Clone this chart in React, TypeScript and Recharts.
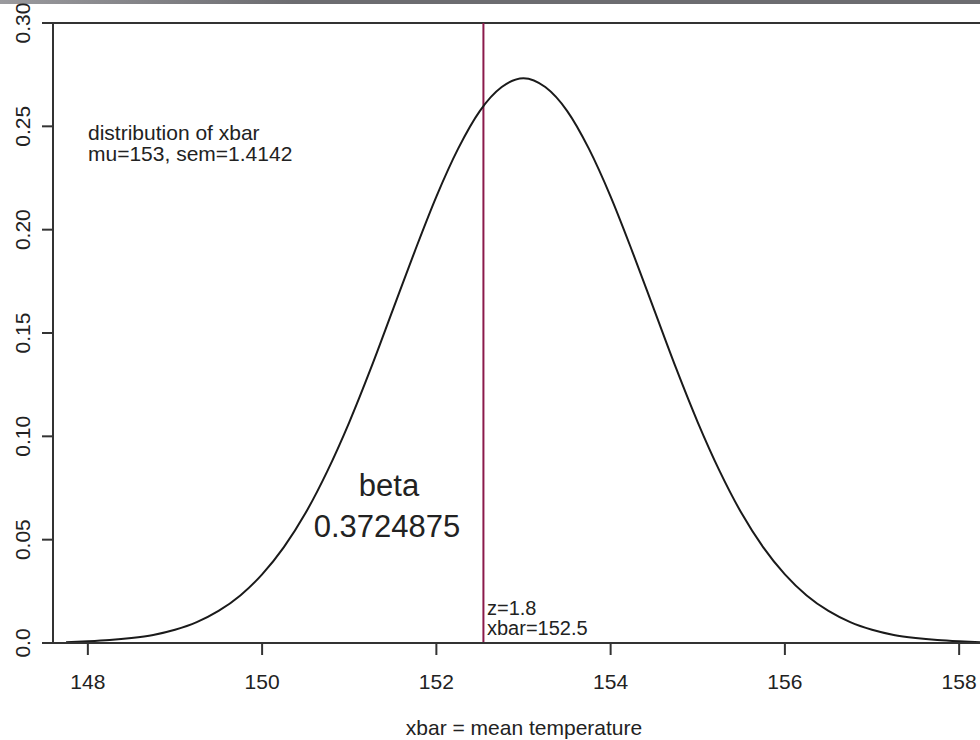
import { LineChart, Line, XAxis, YAxis, ReferenceLine } from 'recharts'

// sampling grid of the curve (mean temperature)
const xbarValues = [
  147.75, 148, 148.25, 148.5, 148.75, 149, 149.25, 149.5, 149.75, 150, 150.25,
  150.5, 150.75, 151, 151.25, 151.5, 151.75, 152, 152.25, 152.5, 152.75, 153,
  153.25, 153.5, 153.75, 154, 154.25, 154.5, 154.75, 155, 155.25, 155.5, 155.75,
  156, 156.25, 156.5, 156.75, 157, 157.25, 157.5, 157.75, 158, 158.25,
]

// density
const densityValues = [
  0.0004, 0.0008, 0.0014, 0.0024, 0.0039, 0.0064, 0.0101, 0.0155, 0.023, 0.0332, 0.0464,
  0.063, 0.0833, 0.1068, 0.1331, 0.1612, 0.1893, 0.216, 0.2392, 0.2575, 0.269, 0.2733,
  0.269, 0.2575, 0.2392, 0.216, 0.1893, 0.1612, 0.1331, 0.1068, 0.0833, 0.063, 0.0464,
  0.0332, 0.023, 0.0155, 0.0101, 0.0064, 0.0039, 0.0024, 0.0014, 0.0008, 0.0004,
]

const xTicks = [148, 150, 152, 154, 156, 158]
const yTicks = [0, 0.05, 0.1, 0.15, 0.2, 0.25, 0.3]
const cutoff = 152.54

const chartData = xbarValues.map((x, i) => ({ x, y: densityValues[i] }))

const FONT = '"Liberation Sans", Arial, Helvetica, sans-serif'
const INK = '#222'

const YTick = ({ y, payload }: any) => {
  const v = payload.value
  const label = v === 0 ? '0.0' : v.toFixed(2)
  return (
    <text
      x={30}
      y={y}
      transform={`rotate(-90, 30, ${y})`}
      textAnchor="middle"
      fontSize={21}
      fontFamily={FONT}
      fill={INK}
    >
      {label}
    </text>
  )
}

export default function App() {
  return (
    <div
      style={{
        position: 'fixed',
        left: 0,
        top: 0,
        width: 980,
        height: 740,
        overflow: 'hidden',
        background: '#fff',
      }}
    >
      <div style={{ position: 'absolute', left: 0, top: 0, width: 980, height: 4, background: 'linear-gradient(to right, #9a9a9e, #6c6c70 30%, #6c6c70)' }} />
      <LineChart
        width={1010}
        height={740}
        data={chartData}
        margin={{ top: 23, right: 16, bottom: 0, left: 0 }}
      >
        <XAxis
          type="number"
          dataKey="x"
          domain={[147.6, 158.4]}
          ticks={xTicks}
          allowDataOverflow
          height={97}
          tickSize={12}
          tickMargin={19}
          axisLine={{ stroke: '#333', strokeWidth: 2 }}
          tickLine={{ stroke: '#333', strokeWidth: 2 }}
          tick={{ fontSize: 21, fill: INK, fontFamily: FONT }}
        />
        <YAxis
          type="number"
          domain={[0, 0.3]}
          ticks={yTicks}
          allowDataOverflow
          width={53}
          tickSize={11}
          axisLine={{ stroke: '#333', strokeWidth: 2 }}
          tickLine={{ stroke: '#333', strokeWidth: 2 }}
          tick={<YTick />}
        />
        <ReferenceLine y={0.3} stroke="#333" strokeWidth={2} />
        <ReferenceLine x={158.4} stroke="#333" strokeWidth={2} />
        <ReferenceLine x={cutoff} stroke="#8B1A4B" strokeWidth={2} />
        <Line
          type="monotone"
          dataKey="y"
          stroke="#1a1a1a"
          strokeWidth={2}
          dot={false}
          isAnimationActive={false}
        />
      </LineChart>
      <svg
        width={980}
        height={740}
        style={{ position: 'absolute', left: 0, top: 0, pointerEvents: 'none' }}
        fontFamily={FONT}
        fill={INK}
      >
        <text x={88} y={140} fontSize={21}>distribution of xbar</text>
        <text x={88} y={161} fontSize={21}>mu=153, sem=1.4142</text>
        <text x={389} y={496} fontSize={31} textAnchor="middle">beta</text>
        <text x={387} y={537} fontSize={31} textAnchor="middle">0.3724875</text>
        <text x={487} y={615} fontSize={20}>z=1.8</text>
        <text x={487} y={635} fontSize={20}>xbar=152.5</text>
        <text x={524} y={735} fontSize={21} textAnchor="middle">xbar = mean temperature</text>
      </svg>
    </div>
  )
}
